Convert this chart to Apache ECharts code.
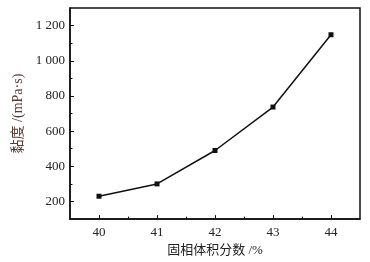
<!DOCTYPE html>
<html>
<head>
<meta charset="utf-8">
<script src="https://cdn.jsdelivr.net/npm/echarts@6/dist/echarts.min.js"></script>
<style>
html,body{margin:0;padding:0;background:#fff;}
#chart{width:370px;height:262px;}
</style>
</head>
<body>
<div id="chart"></div>
<script>
// 固相体积分数 vs 黏度
var xValues = [40, 41, 42, 43, 44];
var viscosity = [230, 300, 490, 737, 1148];
var xMajorTicks = [40, 41, 42, 43, 44];
var xMinorTicks = [40.5, 41.5, 42.5, 43.5];
var yMajorTicks = [200, 400, 600, 800, 1000, 1200];
var yMinorTicks = [300, 500, 700, 900, 1100];

var fontFam = '"Liberation Serif", "Noto Sans CJK SC", serif';

var points = [];
for (var i = 0; i < xValues.length; i++) {
    points.push([xValues[i], viscosity[i]]);
}

function fmtNum(v) {
    var s = String(v);
    if (s.length > 3) {
        s = s.slice(0, s.length - 3) + ' ' + s.slice(s.length - 3);
    }
    return s;
}

var chart = echarts.init(document.getElementById('chart'));
var option = {
    backgroundColor: '#fff',
    animation: false,
    grid: {
        left: 70, right: 10, top: 8, bottom: 40,
        show: true,
        borderColor: '#111',
        borderWidth: 1.5,
        backgroundColor: 'transparent'
    },
    xAxis: [
        {
            type: 'value',
            min: 39.5,
            max: 44.5,
            name: '固相体积分数 /%',
            nameLocation: 'middle',
            nameGap: 24,
            nameTextStyle: {fontFamily: fontFam, fontSize: 13, color: '#222'},
            axisLine: {lineStyle: {color: '#111', width: 1.5}},
            axisTick: {inside: true, length: 4, lineStyle: {color: '#111'}, customValues: xMajorTicks},
            axisLabel: {fontFamily: fontFam, fontSize: 13, color: '#222', margin: 7, customValues: xMajorTicks},
            splitLine: {show: false}
        },
        {
            type: 'value',
            min: 39.5,
            max: 44.5,
            position: 'bottom',
            axisLine: {show: false},
            axisTick: {inside: true, length: 2.5, lineStyle: {color: '#111'}, customValues: xMinorTicks},
            axisLabel: {show: false},
            splitLine: {show: false}
        }
    ],
    yAxis: [
        {
            type: 'value',
            min: 100,
            max: 1300,
            name: '黏度 /(mPa·s)',
            nameLocation: 'middle',
            nameGap: 44,
            nameTextStyle: {fontFamily: fontFam, fontSize: 14, color: '#5a3a30'},
            axisLine: {lineStyle: {color: '#111', width: 1.5}},
            axisTick: {inside: true, length: 4, lineStyle: {color: '#111'}, customValues: yMajorTicks},
            axisLabel: {fontFamily: fontFam, fontSize: 13, color: '#222', margin: 5,
                customValues: yMajorTicks, formatter: fmtNum},
            splitLine: {show: false}
        },
        {
            type: 'value',
            min: 100,
            max: 1300,
            position: 'left',
            axisLine: {show: false},
            axisTick: {inside: true, length: 2.5, lineStyle: {color: '#111'}, customValues: yMinorTicks},
            axisLabel: {show: false},
            splitLine: {show: false}
        }
    ],
    series: [
        {
            type: 'line',
            data: points,
            symbol: 'rect',
            symbolSize: 5,
            lineStyle: {color: '#111', width: 1.5},
            itemStyle: {color: '#111'}
        }
    ]
};
chart.setOption(option);
</script>
</body>
</html>
